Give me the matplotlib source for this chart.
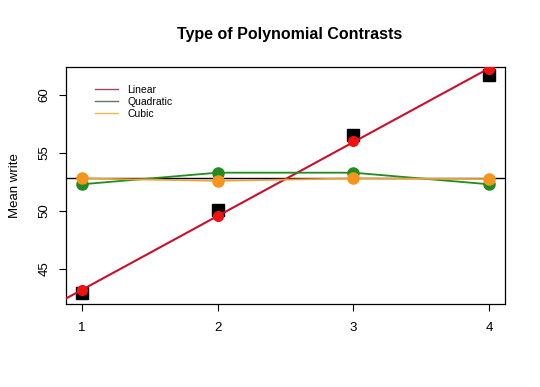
import numpy as np
import matplotlib
matplotlib.use("Agg")
import matplotlib.pyplot as plt
from matplotlib.lines import Line2D

plt.rcParams["font.family"] = ["Liberation Sans", "DejaVu Sans"]

# group positions and the values
groups    = [1, 2, 3, 4]
means     = [42.9, 50.05, 56.55, 61.7]
linear    = [43.15, 49.6, 56.0, 62.25]
quadratic = [52.3, 53.3, 53.3, 52.3]
cubic     = [52.8, 52.6, 52.8, 52.75]
grand_mean = 52.8

fig = plt.figure(figsize=(5.4, 3.87), dpi=100)
ax = fig.add_axes([0.1222, 0.2145, 0.8130, 0.6124])

ax.set_xlim(0.882, 4.118)
ax.set_ylim(41.97, 62.42)

# observed means
ax.plot(groups, means, "s", color="black", ms=8.5, zorder=2)

# reference line at the grand mean
ax.axhline(grand_mean, color="black", lw=1, zorder=1)

# linear fit drawn across the whole panel
slope, icept = np.polyfit(groups, linear, 1)
ax.axline((0, icept), slope=slope, color="#C8102E", lw=1.5, zorder=3)

ax.plot(groups, quadratic, "-", color="#228B22", lw=1.3, zorder=3)
ax.plot(groups, cubic, "-", color="#E8A33A", lw=1.3, zorder=3)

ax.plot(groups, quadratic, "o", color="#228B22", ms=8, zorder=4)
ax.plot(groups, cubic, "o", color="#F7941D", ms=8, zorder=5)
ax.plot(groups, linear, "o", color="#F21010", ms=7, zorder=6)

ax.set_xticks(groups)
ax.set_yticks([45, 50, 55, 60])
ax.tick_params(axis="both", length=5, width=0.8, labelsize=9.5)
ax.tick_params(axis="x", pad=8)
ax.tick_params(axis="y", pad=6)
for lab in ax.get_yticklabels():
    lab.set_rotation(90)
    lab.set_va("center")
for sp in ax.spines.values():
    sp.set_linewidth(0.9)

ax.set_ylabel("Mean write", fontsize=9.5, labelpad=13)
fig.text(0.537, 0.91, "Type of Polynomial Contrasts",
         ha="center", va="center", fontsize=11.5, fontweight="bold")

handles = [
    Line2D([], [], color="#A04A5C", lw=1),
    Line2D([], [], color="#5C7A5C", lw=1),
    Line2D([], [], color="#E0C050", lw=1),
]
ax.legend(handles, ["Linear", "Quadratic", "Cubic"], loc="upper left",
          bbox_to_anchor=(0.045, 0.965), frameon=False, fontsize=7.5,
          handlelength=2.2, handletextpad=0.9, labelspacing=0.2)

fig.savefig("out.png", dpi=100)
